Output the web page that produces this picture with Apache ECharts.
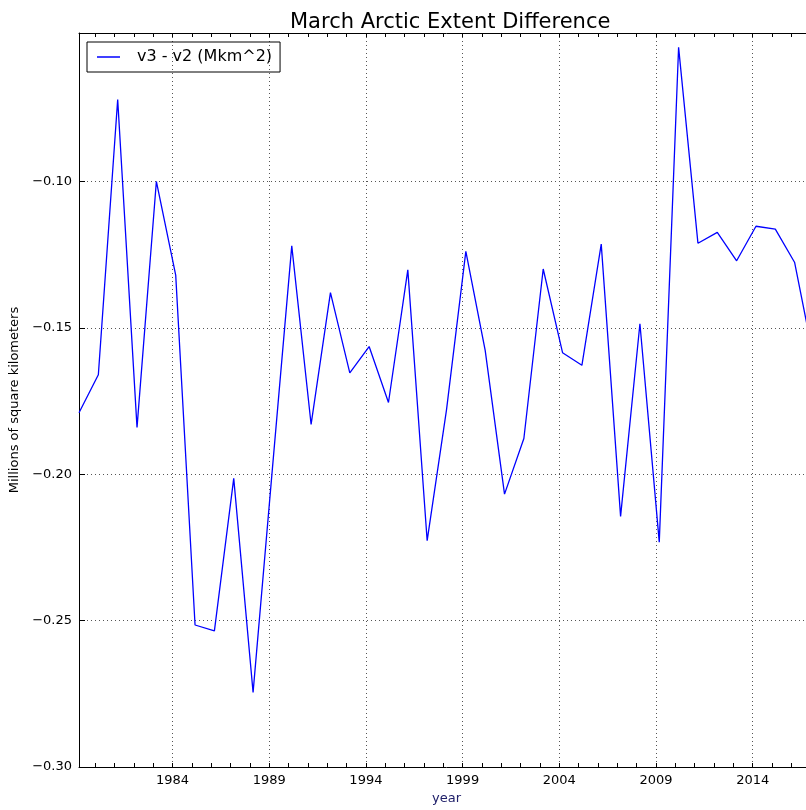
<!DOCTYPE html>
<html>
<head>
<meta charset="utf-8">
<script src="https://cdn.jsdelivr.net/npm/echarts@6/dist/echarts.min.js"></script>
<style>
  html, body { margin: 0; padding: 0; background: #fff; overflow: hidden; }
  /* the plot runs past the right edge of the window, like the cropped original */
  #chart { width: 830px; height: 810px; }
</style>
</head>
<body>
<div id="chart"></div>
<script>
// March values plotted at year + 2/12
const years = [1979, 1980, 1981, 1982, 1983, 1984, 1985, 1986, 1987, 1988,
  1989, 1990, 1991, 1992, 1993, 1994, 1995, 1996, 1997, 1998,
  1999, 2000, 2001, 2002, 2003, 2004, 2005, 2006, 2007, 2008,
  2009, 2010, 2011, 2012, 2013, 2014, 2015, 2016, 2017];
const diff = [-0.179, -0.166, -0.072, -0.184, -0.100, -0.132, -0.2515, -0.2535, -0.2014, -0.2745,
  -0.198, -0.122, -0.183, -0.138, -0.1654, -0.1564, -0.1755, -0.1302, -0.2227, -0.178,
  -0.1239, -0.1577, -0.2068, -0.1878, -0.1299, -0.1585, -0.1628, -0.1214, -0.2144, -0.1486,
  -0.2232, -0.0542, -0.1211, -0.1174, -0.1271, -0.1153, -0.1163, -0.1277, -0.161];
const xTickLabels = [1984, 1989, 1994, 1999, 2004, 2009, 2014];
const minorYears = [];
for (let y = 1980; y <= 2017; y++) minorYears.push(y);
const yTickLabels = [-0.30, -0.25, -0.20, -0.15, -0.10];

const offset = 2 / 12;
const xMin = 1979 + offset;
const xMax = 2017 + offset;

const chart = echarts.init(document.getElementById('chart'));
const font = 'DejaVu Sans';
const gridLine = { show: true, lineStyle: { color: '#555', width: 1, type: [1, 3] } };

const option = {
  animation: false,
  textStyle: { fontFamily: font },
  title: {
    text: 'March Arctic Extent Difference',
    left: 285,
    top: 7,
    textStyle: { fontFamily: font, fontSize: 21, fontWeight: 'normal', color: '#000' }
  },
  legend: {
    left: 87,
    top: 42,
    padding: [7, 8, 7, 10],
    borderColor: '#000',
    borderWidth: 1,
    itemWidth: 23,
    itemHeight: 1.5,
    textStyle: { fontFamily: font, fontSize: 16, color: '#000', padding: [0, 0, 0, 12] },
    data: [{ name: 'v3 - v2 (Mkm^2)', icon: 'rect' }]
  },
  grid: { left: 79, top: 33, width: 735, height: 737 },
  xAxis: [
    {
      type: 'value',
      position: 'bottom',
      min: xMin,
      max: xMax,
      name: 'year',
      nameLocation: 'middle',
      nameGap: 25,
      nameTextStyle: { fontFamily: font, fontSize: 13, color: '#20206a' },
      axisLine: { show: true, lineStyle: { color: '#000', width: 1 } },
      axisTick: { show: true, inside: true, length: 4, customValues: minorYears, lineStyle: { color: '#000' } },
      axisLabel: {
        customValues: xTickLabels,
        fontFamily: font,
        fontSize: 13,
        color: '#000',
        margin: 7,
        formatter: v => String(Math.round(v))
      },
      splitLine: { show: false }
    },
    {
      type: 'value',
      position: 'bottom',
      min: xMin,
      max: xMax,
      axisLine: { show: false },
      axisTick: { show: false, customValues: xTickLabels },
      axisLabel: { show: false },
      splitLine: gridLine
    },
    {
      type: 'value',
      position: 'top',
      min: xMin,
      max: xMax,
      axisLine: { show: true, lineStyle: { color: '#000', width: 1 } },
      axisTick: { show: true, inside: true, length: 4, customValues: minorYears, lineStyle: { color: '#000' } },
      axisLabel: { show: false },
      splitLine: { show: false }
    }
  ],
  yAxis: {
    type: 'value',
    min: -0.30,
    max: -0.0493,
    name: 'Millions of square kilometers',
    nameLocation: 'middle',
    nameGap: 55,
    nameTextStyle: { fontFamily: font, fontSize: 13, color: '#000' },
    axisLine: { show: true, lineStyle: { color: '#000', width: 1 } },
    axisTick: { show: true, inside: true, length: 6, customValues: yTickLabels, lineStyle: { color: '#000' } },
    axisLabel: {
      customValues: yTickLabels,
      fontFamily: font,
      fontSize: 13,
      color: '#000',
      margin: 7,
      formatter: v => v.toFixed(2).replace('-', '\u2212')
    },
    splitLine: gridLine
  },
  series: [
    {
      name: 'v3 - v2 (Mkm^2)',
      type: 'line',
      xAxisIndex: 0,
      symbol: 'none',
      showSymbol: false,
      color: '#0000ff',
      lineStyle: { color: '#0000ff', width: 1.3 },
      data: years.map((y, i) => [y + offset, diff[i]])
    }
  ]
};

chart.setOption(option);
</script>
</body>
</html>
